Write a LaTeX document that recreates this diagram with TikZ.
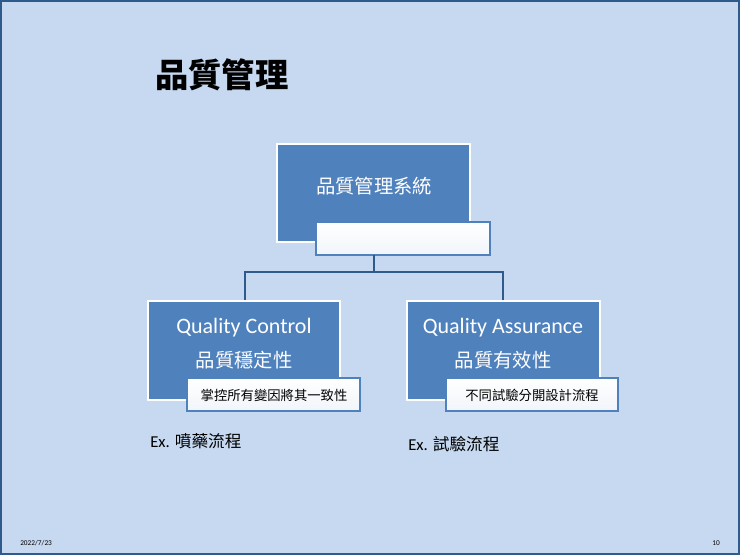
\documentclass[tikz,border=0pt]{standalone}
\usepackage{fontspec}
\setmainfont{Carlito}
\newfontfamily\cjk{Noto Sans CJK TC}
\definecolor{bg}{HTML}{C6D9F0}
\definecolor{bx}{HTML}{4F81BD}
\definecolor{ln}{HTML}{2E5A8C}
\begin{document}
\begin{tikzpicture}[x=0.75pt,y=-0.75pt,
  main/.style={draw=white,line width=1.5pt,fill=bx},
  sub/.style={draw=bx,line width=1pt,top color=white,bottom color=white!92!bx},
  wt/.style={text=white,align=center,inner sep=0pt},
  conn/.style={draw=ln,line width=1.5pt}]
\fill[bg] (0,0) rectangle (740,555);
\draw[ln,line width=1.5pt] (1,1) rectangle (739,554);
\useasboundingbox (0,0) rectangle (740,555);
\node[anchor=west,inner sep=0pt] (title) at (155,75) {\cjk\fontsize{25}{30}\selectfont\bfseries 品質管理};
% top
\draw[main] (277,144) rectangle (470,242);
\node[wt] (top) at (374,186) {\cjk\fontsize{14.5}{17}\selectfont 品質管理系統};
\draw[sub] (316,222) rectangle (490,255);
\coordinate (topb) at (374,255);
\coordinate (j) at (374,272);
\coordinate (jl) at (245,272);
\coordinate (jr) at (503,272);
\coordinate (lt) at (245,301);
\coordinate (rt) at (503,301);
\draw[conn] (topb) -- (j) -- (jl) -- (lt);
\draw[conn] (j) -- (jr) -- (rt);
% left
\draw[main] (148,301) rectangle (340,400);
\node[wt] (qc) at (244,328) {\fontsize{16.5}{20}\selectfont Quality Control};
\node[wt] (qc2) at (244,360) {\cjk\fontsize{14.5}{17}\selectfont 品質穩定性};
\draw[sub] (187,378) rectangle (360,411);
\node[inner sep=0pt] (qcs) at (274,395) {\cjk\fontsize{10}{12}\selectfont 掌控所有變因將其一致性};
% right
\draw[main] (407,301) rectangle (600,400);
\node[wt] (qa) at (503,328) {\fontsize{16.5}{20}\selectfont Quality Assurance};
\node[wt] (qa2) at (503,360) {\cjk\fontsize{14.5}{17}\selectfont 品質有效性};
\draw[sub] (446,378) rectangle (618,411);
\node[inner sep=0pt] (qas) at (532,395) {\cjk\fontsize{10}{12}\selectfont 不同試驗分開設計流程};
% examples
\node[anchor=west,inner sep=0pt] (e1) at (150,441) {\fontsize{12.5}{15}\selectfont Ex. {\cjk 噴藥流程}};
\node[anchor=west,inner sep=0pt] (e2) at (408,444) {\fontsize{12.5}{15}\selectfont Ex. {\cjk 試驗流程}};
\node[anchor=west,inner sep=0pt] (d) at (20,543) {\fontsize{5.5}{7}\selectfont 2022/7/23};
\node[anchor=east,inner sep=0pt] (p) at (720,543) {\fontsize{5.5}{7}\selectfont 10};
\end{tikzpicture}
\end{document}
